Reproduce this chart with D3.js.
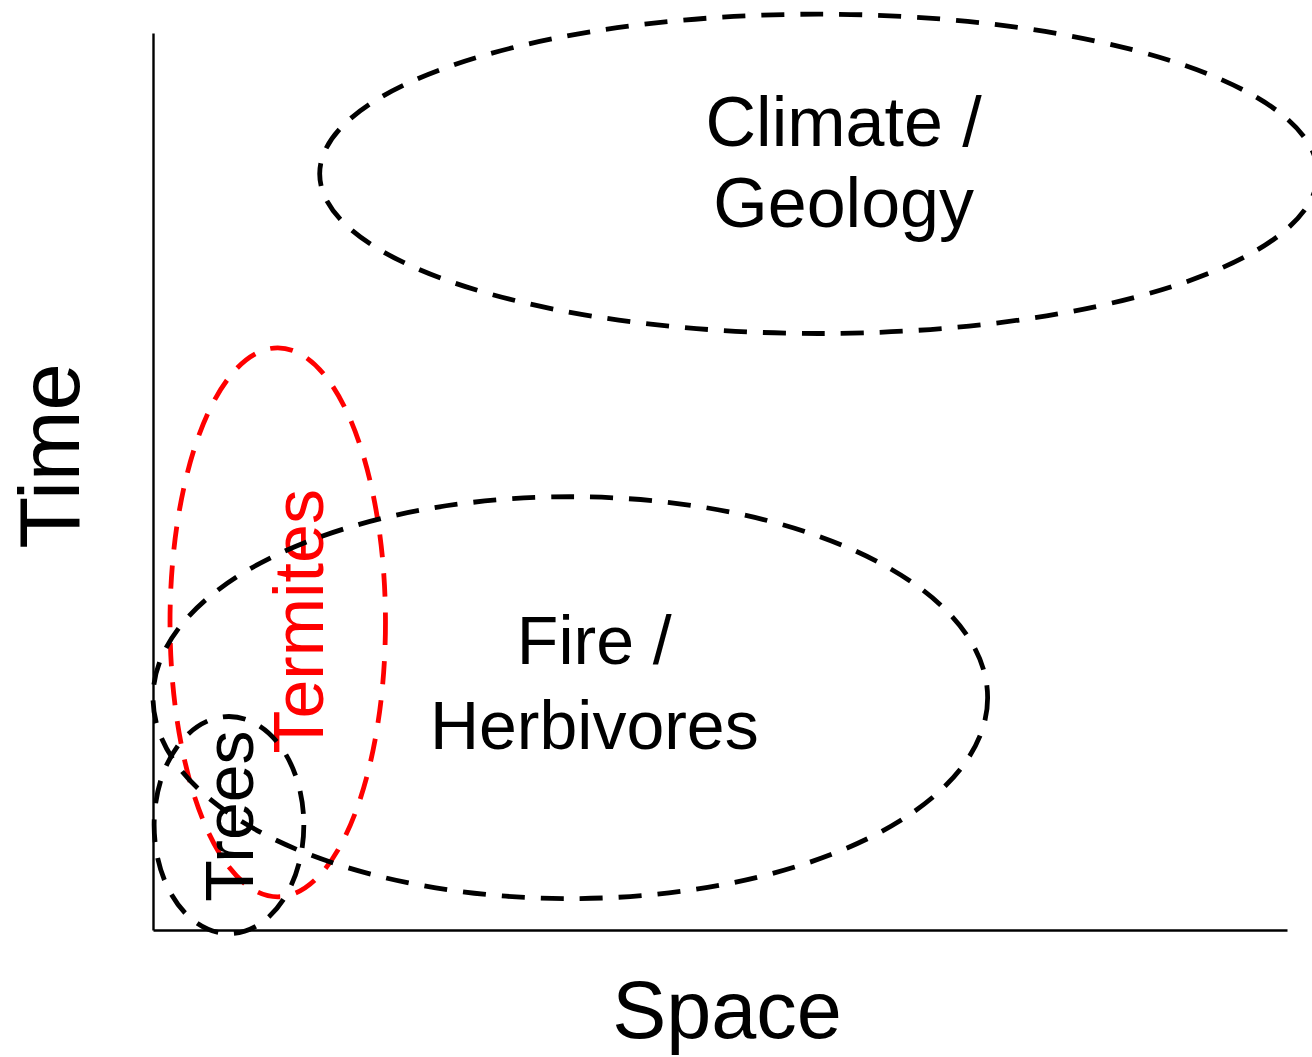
<!DOCTYPE html>
<html>
<head>
<meta charset="utf-8">
<script src="https://cdn.jsdelivr.net/npm/d3@7"></script>
<style>
    body { margin: 0; background: #fff; }
    svg text { font-family: "Liberation Sans", Arial, Helvetica, sans-serif; }
</style>
</head>
<body>
<div id="chart"></div>
<script>
// scale names (space / time units are arbitrary, 0..10)
var names = ['Climate / Geology', 'Termites', 'Fire / Herbivores', 'Trees'];
var space_center = [5.87, 1.10, 3.68, 0.67];
var space_extent = [4.40, 0.95, 3.68, 0.66];
var time_center = [8.43, 3.43, 2.59, 1.17];
var time_extent = [1.78, 3.06, 2.24, 1.21];
var label_lines = [['Climate /', 'Geology'], ['Termites'], ['Fire /', 'Herbivores'], ['Trees']];
var axis_titles = ['Space', 'Time'];

var width = 1312,
    height = 1057,
    margins = {top: 33, right: 25, bottom: 127, left: 153};

var data = names.map(function(n, i) {
    return {
        name: n,
        cx: space_center[i],
        rx: space_extent[i],
        cy: time_center[i],
        ry: time_extent[i],
        lines: label_lines[i]
    };
});

// label layout, pixel offsets from ellipse centre
var layout = {
    'Climate / Geology': {dx: 25, dy: [-28, 53], size: 70, rotate: false, color: '#000'},
    'Fire / Herbivores': {dx: 24, dy: [-34, 51], size: 68, rotate: false, color: '#000'},
    'Termites': {dx: 45, dy: [-1], size: 70, rotate: true, color: '#ff0000'},
    'Trees': {dx: 24, dy: [-9], size: 68, rotate: true, color: '#000'}
};

var svg = d3.select("#chart").append("svg")
    .attr("width", width)
    .attr("height", height);

var xScale = d3.scaleLinear()
    .domain([0, 10])
    .range([margins.left, width - margins.right]);

var yScale = d3.scaleLinear()
    .domain([0, 10])
    .range([height - margins.bottom, margins.top]);

var xAxis = d3.axisBottom(xScale).tickValues([]).tickSizeOuter(0);
var yAxis = d3.axisLeft(yScale).tickValues([]).tickSizeOuter(0);

svg.append("g")
    .attr("class", "axis x")
    .attr("transform", "translate(0," + yScale(0) + ")")
    .call(xAxis);

svg.append("g")
    .attr("class", "axis y")
    .attr("transform", "translate(" + xScale(0) + ",0)")
    .call(yAxis);

svg.selectAll(".axis path")
    .attr("stroke", "#000")
    .attr("stroke-width", 2.4);

function drawGroup(d) {
    var lay = layout[d.name];
    var g = svg.append("g").attr("class", "scale-group");
    var cx = xScale(d.cx),
        cy = yScale(d.cy);

    g.append("ellipse")
        .attr("cx", cx)
        .attr("cy", cy)
        .attr("rx", xScale(d.rx) - xScale(0))
        .attr("ry", yScale(0) - yScale(d.ry))
        .attr("fill", "none")
        .attr("stroke", lay.color)
        .attr("stroke-width", 4.8)
        .attr("stroke-dasharray", "23,16");

    d.lines.forEach(function(line, j) {
        var t = g.append("text")
            .attr("text-anchor", "middle")
            .attr("fill", lay.color)
            .style("font-size", lay.size + "px")
            .text(line);
        if (lay.rotate) {
            t.attr("transform", "translate(" + (cx + lay.dx) + "," + (cy + lay.dy[j]) + ") rotate(-90)");
        } else {
            t.attr("x", cx + lay.dx).attr("y", cy + lay.dy[j]);
        }
    });
}

data.forEach(drawGroup);

// axis titles
svg.append("text")
    .attr("text-anchor", "middle")
    .attr("x", 727)
    .attr("y", 1038)
    .style("font-size", "81px")
    .text(axis_titles[0]);

svg.append("text")
    .attr("text-anchor", "middle")
    .attr("transform", "translate(79,456) rotate(-90)")
    .style("font-size", "85px")
    .text(axis_titles[1]);
</script>
</body>
</html>
